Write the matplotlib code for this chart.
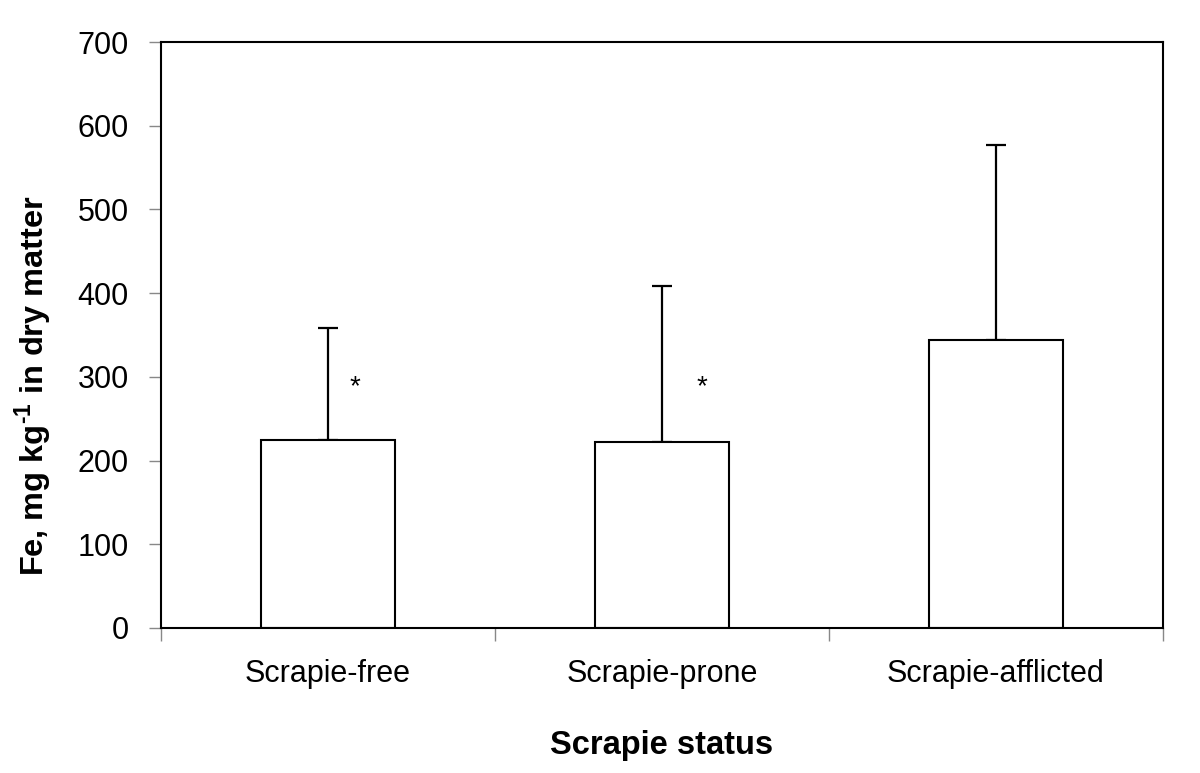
import matplotlib.pyplot as plt
import numpy as np

plt.rcParams['font.family'] = ['Liberation Sans', 'DejaVu Sans']
plt.rcParams['mathtext.fontset'] = 'custom'
plt.rcParams['mathtext.rm'] = 'Liberation Sans'
plt.rcParams['mathtext.bf'] = 'Liberation Sans:bold'

# Fe concentration by scrapie status
status = ['Scrapie-free', 'Scrapie-prone', 'Scrapie-afflicted']
fe_mean = [224, 222, 344]
fe_sd = [134, 186, 233]
significant = [True, True, False]
star_dx = [0.08, 0.12, 0.0]
star_y = [292, 292, 0]

fig = plt.figure(figsize=(12, 7.73), dpi=100)
ax = fig.add_axes([0.134, 0.1876, 0.835, 0.758])

x = np.arange(len(status))
ax.bar(x, fe_mean, width=0.4, color='white', edgecolor='black', linewidth=1.5, zorder=2)
ax.errorbar(x, fe_mean, yerr=[np.zeros(len(x)), fe_sd], fmt='none', ecolor='black',
            elinewidth=1.6, capsize=7, capthick=1.6, zorder=1)

for i in range(len(status)):
    if significant[i]:
        ax.text(x[i] + star_dx[i], star_y[i] - 4, '*', ha='center', va='center', fontsize=20)

ax.set_xlim(-0.5, 2.5)
ax.set_ylim(0, 700)
ax.set_yticks(range(0, 701, 100))
ax.set_xticks(x)
ax.set_xticklabels(status)
ax.set_xticks([-0.5, 0.5, 1.5, 2.5], minor=True)
ax.tick_params(axis='x', which='major', length=0, pad=22, labelsize=22)
ax.tick_params(axis='x', which='minor', length=9, color='#888888', width=1)
ax.tick_params(axis='y', length=9, color='#888888', width=1, labelsize=22, pad=14)

for s in ax.spines.values():
    s.set_linewidth(1.5)

ax.set_xlabel('Scrapie status', fontsize=23.5, fontweight='bold', labelpad=30)
ax.set_ylabel('Fe, mg kg$^{\\mathbf{\u20101}}$ in dry matter', fontsize=23.4, fontweight='bold')
ax.yaxis.set_label_coords(-0.106, 0.414)

fig.savefig('out.png', dpi=100)
